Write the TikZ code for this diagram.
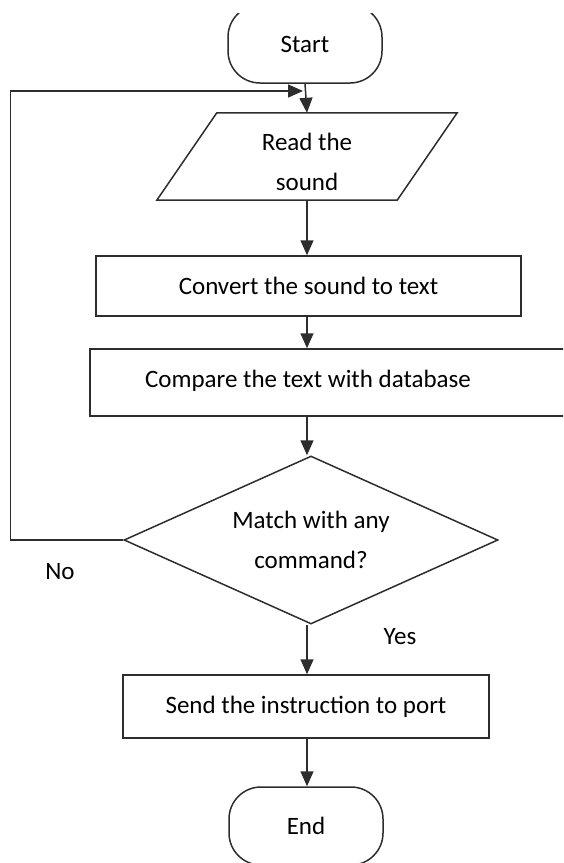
\documentclass[tikz,border=0pt]{standalone}
\usepackage{fontspec}
\setmainfont{Carlito}
\usetikzlibrary{shapes.geometric,arrows.meta}
\definecolor{ln}{RGB}{45,45,45}
\begin{document}
\begin{tikzpicture}[x=1pt,y=-1pt,
  every node/.style={font=\fontsize{25}{40}\selectfont, text=black},
  box/.style={draw=ln, line width=1.5pt, rectangle, inner sep=0pt},
  term/.style={draw=ln, line width=1.5pt, rectangle, rounded corners=32pt, inner sep=0pt, minimum width=154pt, minimum height=78pt},
  io/.style={rectangle, inner sep=0pt, minimum width=240pt, minimum height=87pt},
  decision/.style={draw=ln, line width=1.5pt, diamond, shape aspect=2.226, inner sep=0pt, minimum width=374pt, minimum height=168pt, align=center},
  arr/.style={draw=ln, line width=1.5pt, -{Triangle[length=15pt,width=13pt]}},
  edge/.style={draw=ln, line width=1.5pt},
  lbl/.style={inner sep=0pt}
]
\clip (0,0) rectangle (563,863);
\begin{scope}
  \clip (0,13) rectangle (563,200);
  \node[term] (start) at (305,44) {Start};
\end{scope}
\node[io] (read) at (307,156.5) {};
\draw[edge] ([xshift=30pt]read.north west) -- ([xshift=30pt]read.north east)
  -- ([xshift=-30pt]read.south east) -- ([xshift=-30pt]read.south west) -- cycle;
\node[lbl, align=center] (readtext) at (307,162) {Read the\\sound};
\node[box, minimum width=425pt, minimum height=60pt] (conv) at (308.5,286) {Convert the sound to text};
\node[box, minimum width=480pt, minimum height=67pt] (comp) at (330,382.5) {};
\node[lbl] (comptext) at (308,381) {Compare the text with database};
\node[decision] (dec) at (311,540) {Match with any\\command?};
\node[box, minimum width=366pt, minimum height=63pt] (send) at (306,706.5) {Send the instruction to port};
\node[term] (end) at (306,826) {End};
\node[lbl] (no) at (60,572) {No};
\node[lbl] (yes) at (400,637) {Yes};
\coordinate (loopin) at (303,91);

\draw[arr] (start.south) -- (read.north);
\draw[arr] (read.south) -- (read.south |- conv.north);
\draw[arr] (read.south |- conv.south) -- (read.south |- comp.north);
\draw[arr] (read.south |- comp.south) -- (read.south |- dec.north);
\draw[arr] (read.south |- dec.south) -- (read.south |- send.north);
\draw[arr] (read.south |- send.south) -- (read.south |- end.north);
\draw[arr] (dec.west) -- ++(-113,0) |- (loopin);
\end{tikzpicture}
\end{document}
